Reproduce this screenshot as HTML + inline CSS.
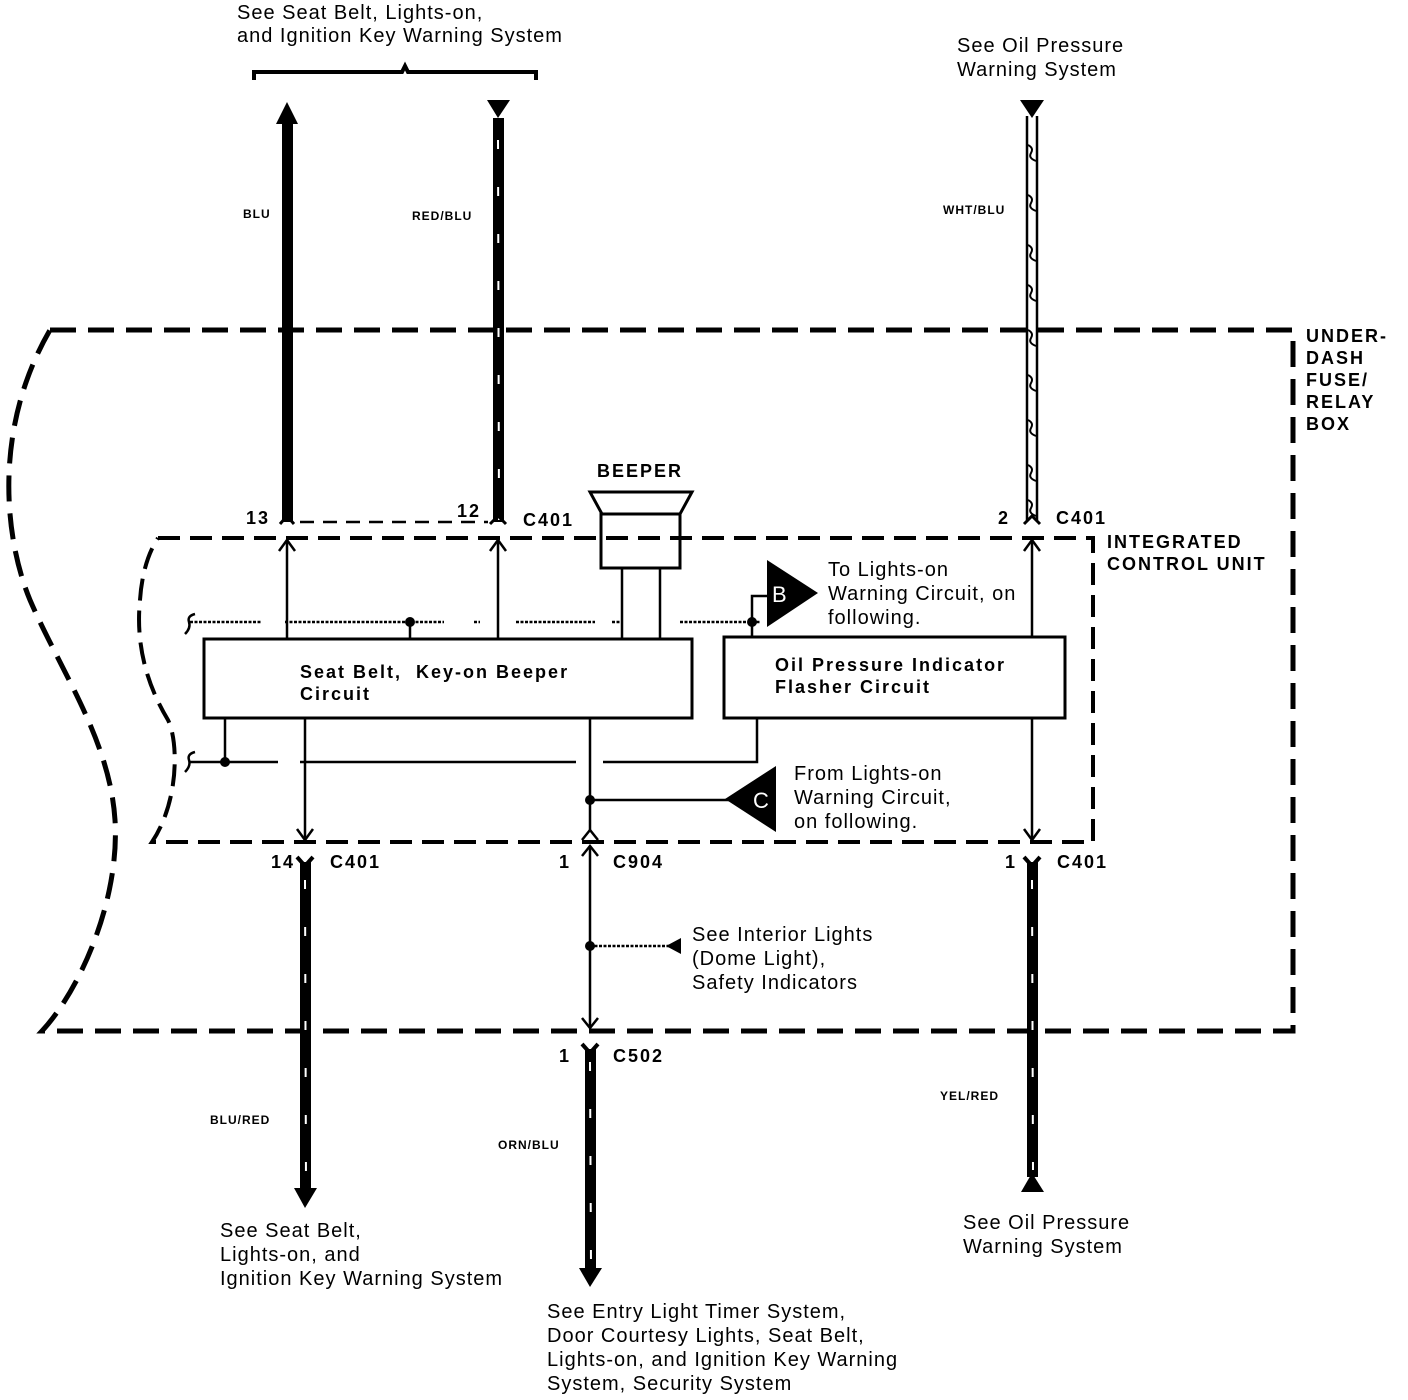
<!DOCTYPE html>
<html><head><meta charset="utf-8"><style>
html,body{margin:0;padding:0;background:#fff;width:1408px;height:1400px;overflow:hidden}
svg{display:block}
text{font-family:"Liberation Sans",sans-serif;fill:#000}
.t{font-size:20px;letter-spacing:1px}
.b{font-size:18px;font-weight:bold;letter-spacing:2px}
.s{font-size:12px;font-weight:bold;letter-spacing:1px}
</style></head><body>
<svg width="1408" height="1400" viewBox="0 0 1408 1400" xmlns="http://www.w3.org/2000/svg">
<g fill="none" stroke="#000">
<path d="M50,330 L1293,330 L1293,1031 L42,1031 C80,990 120,900 115,820 C110,740 60,670 30,600 C5,540 -8,430 50,330" stroke-width="5" stroke-dasharray="26,12"/>
<path d="M158,538 L1093,538 L1093,842 L152,842 C180,800 178,740 168,720 C150,690 135,650 140,600 C142,570 150,550 158,538" stroke-width="4" stroke-dasharray="22,10"/>
<path d="M254,80 L254,72 L402,72 L405,66 L408,72 L536,72 L536,80" stroke-width="4"/>
</g>

<rect x="282" y="122" width="11" height="400" fill="#000"/>
<polygon points="287,102 276,124 298,124" fill="#000"/>
<path d="M280,524 L287,516 L294,524" stroke="#000" stroke-width="3" fill="none"/>
<polygon points="487,100 510,100 498,118" fill="#000"/>
<rect x="493" y="118" width="11" height="404" fill="#000"/>
<line x1="498" y1="140" x2="499" y2="520" stroke="#fff" stroke-width="2" stroke-dasharray="9,38"/>
<path d="M490,524 L498,516 L506,524" stroke="#000" stroke-width="3" fill="none"/>
<polygon points="1020,100 1044,100 1032,118" fill="#000"/>
<line x1="1027" y1="116" x2="1027" y2="520" stroke="#000" stroke-width="2.5"/>
<line x1="1037" y1="116" x2="1037" y2="520" stroke="#000" stroke-width="2.5"/>
<path d="M1028,145 q6,3 3,8 q-3,5 5,8 M1028,195 q6,3 3,8 q-3,5 5,8 M1028,245 q6,3 3,8 q-3,5 5,8 M1028,285 q6,3 3,8 q-3,5 5,8 M1028,330 q6,3 3,8 q-3,5 5,8 M1028,375 q6,3 3,8 q-3,5 5,8 M1028,420 q6,3 3,8 q-3,5 5,8 M1028,465 q6,3 3,8 q-3,5 5,8 M1028,500 q6,3 3,8 q-3,5 5,8" stroke="#000" stroke-width="2" fill="none"/>
<path d="M1024,524 L1032,516 L1040,524" stroke="#000" stroke-width="3" fill="none"/>
<line x1="300" y1="522" x2="488" y2="522" stroke="#000" stroke-width="2.5" stroke-dasharray="14,9"/>

<g stroke="#000" stroke-width="2.5" fill="none">
<line x1="287" y1="638" x2="287" y2="540"/><path d="M279,551 L287,540 L295,551"/>
<line x1="498" y1="638" x2="498" y2="540"/><path d="M490,551 L498,540 L506,551"/>
<line x1="1032" y1="636" x2="1032" y2="540"/><path d="M1024,551 L1032,540 L1040,551"/>
<path d="M590,492 L692,492 L680,514 L602,514 Z" stroke-width="3"/>
<rect x="601" y="514" width="79" height="54" stroke-width="3"/>
<line x1="622" y1="568" x2="622" y2="638"/>
<line x1="660" y1="568" x2="660" y2="638"/>
<path d="M190,622 L262,622 M285,622 L444,622 M474,622 L480,622 M516,622 L595,622 M612,622 L622,622 M680,622 L760,622" stroke-dasharray="3,1.5"/>
<line x1="410" y1="622" x2="410" y2="638"/>
<path d="M752,638 L752,596 L767,596"/>
<rect x="204" y="639" width="488" height="79" stroke-width="3"/>
<rect x="724" y="637" width="341" height="81" stroke-width="3"/>
<path d="M190,762 L278,762 M300,762 L576,762 M603,762 L757,762 L757,718"/>
<line x1="225" y1="718" x2="225" y2="762"/>
<line x1="305" y1="718" x2="305" y2="840"/><path d="M297,829 L305,840 L313,829"/>
<line x1="590" y1="718" x2="590" y2="832"/><path d="M582,840 L590,830 L598,840"/>
<line x1="1032" y1="718" x2="1032" y2="840"/><path d="M1024,829 L1032,840 L1040,829"/>
<line x1="590" y1="800" x2="730" y2="800"/>
<line x1="590" y1="846" x2="590" y2="1028"/>
<path d="M582,856 L590,846 L598,856"/>
<path d="M582,1018 L590,1028 L598,1018"/>
<line x1="590" y1="946" x2="670" y2="946" stroke-dasharray="3,1.5"/>
</g>
<circle cx="410" cy="622" r="5" fill="#000"/>
<circle cx="752" cy="622" r="5" fill="#000"/>
<circle cx="225" cy="762" r="5" fill="#000"/>
<circle cx="590" cy="800" r="5" fill="#000"/>
<circle cx="590" cy="946" r="5" fill="#000"/>
<polygon points="681,938 681,954 666,946" fill="#000"/>
<path d="M195,614 q-8,2 -6,8 q2,6 -4,12" stroke="#000" stroke-width="2.5" fill="none"/>
<path d="M195,752 q-8,2 -6,8 q2,6 -4,12" stroke="#000" stroke-width="2.5" fill="none"/>
<polygon points="767,560 767,627 818,593" fill="#000"/>
<text x="772" y="602" style="font-size:22px;fill:#fff">B</text>
<polygon points="776,766 776,832 725,799" fill="#000"/>
<text x="753" y="808" style="font-size:22px;fill:#fff">C</text>

<path d="M297,857 L305,866 L313,857" stroke="#000" stroke-width="4" fill="none"/>
<rect x="300" y="862" width="11" height="328" fill="#000"/>
<line x1="305" y1="880" x2="306" y2="1185" stroke="#fff" stroke-width="2" stroke-dasharray="9,38"/>
<polygon points="294,1188 317,1188 305,1208" fill="#000"/>

<path d="M582,1044 L590,1053 L598,1044" stroke="#000" stroke-width="4" fill="none"/>
<rect x="585" y="1049" width="11" height="220" fill="#000"/>
<line x1="590" y1="1062" x2="591" y2="1265" stroke="#fff" stroke-width="2" stroke-dasharray="9,38"/>
<polygon points="579,1268 602,1268 590,1287" fill="#000"/>

<path d="M1024,857 L1032,866 L1040,857" stroke="#000" stroke-width="4" fill="none"/>
<rect x="1027" y="862" width="11" height="315" fill="#000"/>
<line x1="1032" y1="880" x2="1033" y2="1170" stroke="#fff" stroke-width="2" stroke-dasharray="9,38"/>
<polygon points="1032,1173 1021,1192 1044,1192" fill="#000"/>

<text class="t" x="237" y="19">See Seat Belt, Lights-on,</text>
<text class="t" x="237" y="42">and Ignition Key Warning System</text>
<text class="t" x="957" y="52">See Oil Pressure</text>
<text class="t" x="957" y="76">Warning System</text>
<text class="s" x="243" y="218">BLU</text>
<text class="s" x="412" y="220">RED/BLU</text>
<text class="s" x="943" y="214">WHT/BLU</text>
<text class="b" x="1306" y="342">UNDER-</text>
<text class="b" x="1306" y="364">DASH</text>
<text class="b" x="1306" y="386">FUSE/</text>
<text class="b" x="1306" y="408">RELAY</text>
<text class="b" x="1306" y="430">BOX</text>
<text class="b" x="1107" y="548">INTEGRATED</text>
<text class="b" x="1107" y="570">CONTROL UNIT</text>
<text class="b" x="597" y="477">BEEPER</text>
<text class="b" x="246" y="524">13</text>
<text class="b" x="457" y="517">12</text>
<text class="b" x="523" y="526">C401</text>
<text class="b" x="998" y="524">2</text>
<text class="b" x="1056" y="524">C401</text>
<text class="t" x="828" y="576">To Lights-on</text>
<text class="t" x="828" y="600">Warning Circuit, on</text>
<text class="t" x="828" y="624">following.</text>
<text class="b" x="300" y="678">Seat Belt,&#160;&#160;Key-on Beeper</text>
<text class="b" x="300" y="700">Circuit</text>
<text class="b" x="775" y="671">Oil Pressure Indicator</text>
<text class="b" x="775" y="693">Flasher Circuit</text>
<text class="t" x="794" y="780">From Lights-on</text>
<text class="t" x="794" y="804">Warning Circuit,</text>
<text class="t" x="794" y="828">on following.</text>
<text class="b" x="271" y="868">14</text>
<text class="b" x="330" y="868">C401</text>
<text class="b" x="559" y="868">1</text>
<text class="b" x="613" y="868">C904</text>
<text class="b" x="1005" y="868">1</text>
<text class="b" x="1057" y="868">C401</text>
<text class="t" x="692" y="941">See Interior Lights</text>
<text class="t" x="692" y="965">(Dome Light),</text>
<text class="t" x="692" y="989">Safety Indicators</text>
<text class="b" x="559" y="1062">1</text>
<text class="b" x="613" y="1062">C502</text>
<text class="s" x="210" y="1124">BLU/RED</text>
<text class="s" x="498" y="1149">ORN/BLU</text>
<text class="s" x="940" y="1100">YEL/RED</text>
<text class="t" x="220" y="1237">See Seat Belt,</text>
<text class="t" x="220" y="1261">Lights-on, and</text>
<text class="t" x="220" y="1285">Ignition Key Warning System</text>
<text class="t" x="963" y="1229">See Oil Pressure</text>
<text class="t" x="963" y="1253">Warning System</text>
<text class="t" x="547" y="1318">See Entry Light Timer System,</text>
<text class="t" x="547" y="1342">Door Courtesy Lights, Seat Belt,</text>
<text class="t" x="547" y="1366">Lights-on, and Ignition Key Warning</text>
<text class="t" x="547" y="1390">System, Security System</text>
</svg>
</body></html>
